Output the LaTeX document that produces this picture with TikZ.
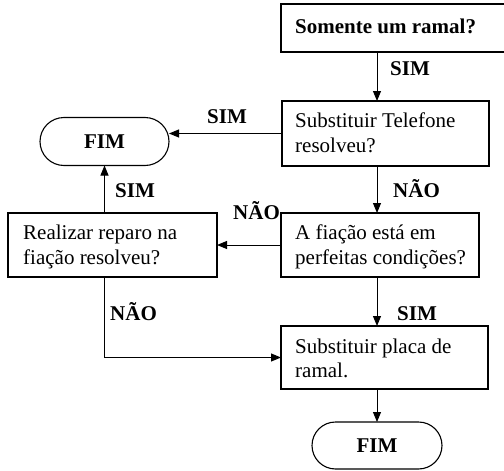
\documentclass[tikz,border=0pt]{standalone}
\usepackage{fontspec}
\setmainfont{Liberation Serif}
\usetikzlibrary{arrows.meta,shapes.misc}
\begin{document}
\begin{tikzpicture}[x=1pt,y=-1pt,
  box/.style={draw, line width=1.1pt, rectangle, inner sep=0pt, outer sep=0pt, anchor=north west},
  term/.style={draw, line width=1.1pt, rounded rectangle, inner sep=0pt, outer sep=0pt, minimum width=129pt, minimum height=48pt, font=\fontsize{21}{25}\selectfont\bfseries},
  txt/.style={anchor=base west, inner sep=0pt, font=\fontsize{21}{25}\selectfont},
  lbl/.style={anchor=base west, inner sep=0pt, font=\fontsize{21}{25}\selectfont\bfseries},
  arr/.style={line width=1pt, -{Triangle[length=10pt,width=8pt]}}]
\useasboundingbox (0,0) rectangle (504,471);
% boxes
\node[box, minimum width=226pt, minimum height=48pt] (b1) at (281,4) {};
\node[box, minimum width=207pt, minimum height=65pt] (b2) at (282,101) {};
\node[box, minimum width=198pt, minimum height=64pt] (b3) at (281,213) {};
\node[box, minimum width=209pt, minimum height=64pt] (b4) at (8,213) {};
\node[box, minimum width=207pt, minimum height=63pt] (b5) at (281,326) {};
\node[term] (f1) at (104.5,141.5) {FIM};
\node[term, minimum width=130pt, minimum height=47pt] (f2) at (377,445.5) {FIM};
% box texts
\node[lbl] (t1) at (295,33) {Somente um ramal?};
\node[txt] (t2a) at (295,127) {Substituir Telefone};
\node[txt] (t2b) at (295,152) {resolveu?};
\node[txt] (t3a) at (295,239) {A fiação está em};
\node[txt] (t3b) at (295,264) {perfeitas condições?};
\node[txt] (t4a) at (23,239) {Realizar reparo na};
\node[txt] (t4b) at (23,264) {fiação resolveu?};
\node[txt] (t5a) at (295,353) {Substituir placa de};
\node[txt] (t5b) at (295,377) {ramal.};
% connectors
\draw[arr] (b1.south -| f2) -- (b2.north -| f2);
\draw[arr] (b2.west) -- (b2.west -| f1.east);
\draw[arr] (b2.south -| f2) -- (b3.north -| f2);
\draw[arr] (b3.west) -- (b4.east);
\draw[arr] (b4.north -| f1) -- (f1.south);
\draw[arr] (b4.south -| f1) |- (b5.west);
\draw[arr] (b3.south -| f2) -- (b5.north -| f2);
\draw[arr] (b5.south -| f2) -- (f2.north);
% connector labels
\node[lbl] (l1) at (390,75) {SIM};
\node[lbl] (l2) at (207,123) {SIM};
\node[lbl] (l3) at (393,197) {NÃO};
\node[lbl] (l4) at (233,219) {NÃO};
\node[lbl] (l5) at (115,197) {SIM};
\node[lbl] (l6) at (110,320) {NÃO};
\node[lbl] (l7) at (397,320) {SIM};
\end{tikzpicture}
\end{document}
